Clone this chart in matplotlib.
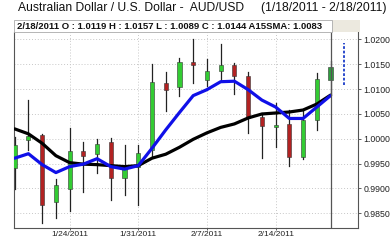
import matplotlib
matplotlib.use("Agg")
import matplotlib.pyplot as plt
from matplotlib.patches import Rectangle

dates = ["1/18", "1/19", "1/20", "1/21", "1/24", "1/25", "1/26", "1/27", "1/28",
         "1/31", "2/1", "2/2", "2/3", "2/4", "2/7", "2/8", "2/9", "2/10", "2/11",
         "2/14", "2/15", "2/16", "2/17", "2/18"]
opens = [0.9941, 0.9997, 1.0008, 0.9872, 0.9899, 0.9976, 0.9969, 0.9993, 0.9922,
         0.9944, 0.9977, 1.0113, 1.0104, 1.0155, 1.0118, 1.0136, 1.0148, 1.0126, 1.0044,
         1.0023, 1.0030, 0.9963, 1.0037, 1.0119]
highs = [1.0003, 1.0078, 1.0009, 0.9919, 1.0022, 0.9993, 0.9999, 1.0001, 0.9987,
         0.9988, 1.0150, 1.0134, 1.0163, 1.0201, 1.0161, 1.0190, 1.0153, 1.0135, 1.0052,
         1.0073, 1.0059, 1.0057, 1.0133, 1.0157]
lows = [0.9898, 0.9978, 0.9831, 0.9841, 0.9855, 0.9892, 0.9931, 0.9877, 0.9886,
        0.9867, 0.9966, 1.0056, 1.0086, 1.0113, 1.0106, 1.0119, 1.0091, 1.0012, 0.9962,
        0.9983, 0.9946, 0.9959, 1.0018, 1.0089]
closes = [0.9988, 1.0006, 0.9866, 0.9907, 0.9976, 0.9966, 0.9990, 0.9921, 0.9946,
          0.9971, 1.0115, 1.0098, 1.0155, 1.0149, 1.0136, 1.0148, 1.0126, 1.0042, 1.0025,
          1.0027, 0.9964, 1.0038, 1.0121, 1.0144]
fast_ma = [0.9961, 0.9970, 0.9948, 0.9932, 0.9944, 0.9949, 0.9960, 0.9944, 0.9939,
           0.9946, 0.9981, 1.0018, 1.0053, 1.0087, 1.0099, 1.0115, 1.0116, 1.0099, 1.0078,
           1.0064, 1.0041, 1.0041, 1.0064, 1.0087]
slow_ma = [1.0020, 1.0010, 0.9991, 0.9966, 0.9952, 0.9949, 0.9948, 0.9946, 0.9944,
           0.9946, 0.9961, 0.9969, 0.9983, 0.9999, 1.0012, 1.0023, 1.0030, 1.0042, 1.0050,
           1.0052, 1.0054, 1.0058, 1.0070, 1.0088]
forecast_range = [1.0109, 1.0193]
xtick_labels = ["1/24/2011", "1/31/2011", "2/7/2011", "2/14/2011"]
xtick_dates = ["1/24", "1/31", "2/7", "2/14"]
ytick_values = [0.9850, 0.9900, 0.9950, 1.0000, 1.0050, 1.0100, 1.0150, 1.0200]

title = "Australian Dollar / U.S. Dollar -  AUD/USD     (1/18/2011 - 2/18/2011)"
header = "2/18/2011 O : 1.0119 H : 1.0157 L : 1.0089 C : 1.0144 A15SMA: 1.0083"

plt.rcParams['font.family'] = ['Liberation Sans', 'DejaVu Sans']

fig = plt.figure(figsize=(3.9, 2.41), dpi=100)
fig.patch.set_facecolor('white')
ax = fig.add_axes([14/390, 1 - 228/241, 344/390, 196/241])

x = list(range(len(dates)))
ax.set_xlim(-0.05, 25.0)
ax.set_ylim(0.98204, 1.02151)

for v in ytick_values:
    ax.axhline(v, color='#c8c8c8', lw=0.7, ls=(0, (1, 2)), zorder=0)
for d in xtick_dates:
    ax.axvline(dates.index(d), color='#c8c8c8', lw=0.7, ls=(0, (1, 2)), zorder=0)

bw = 0.3
for i in x:
    o, h, l, c = opens[i], highs[i], lows[i], closes[i]
    ax.plot([i, i], [l, h], color='#222222', lw=0.9, zorder=2)
    up = c >= o
    col = '#33cc33' if up else '#b22222'
    if i == len(dates) - 1:
        col = '#2e9e3e'
    lo = min(o, c)
    hgt = max(abs(c - o), 0.00012)
    ax.add_patch(Rectangle((i - bw / 2, lo), bw, hgt, facecolor=col,
                           edgecolor='#333333', lw=0.4, zorder=3))

ax.plot(x, slow_ma, color='black', lw=2.3, zorder=4, solid_capstyle='round')
ax.plot(x, fast_ma, color='#1010e8', lw=2.3, zorder=5, solid_capstyle='round')

ax.axvline(len(dates) - 1, color='#555555', lw=0.9, zorder=6)
ax.plot([len(dates), len(dates)], forecast_range, color='#1a3cc8', lw=1.3,
        ls=(0, (1.5, 1)), zorder=6)

ax.yaxis.tick_right()
ax.set_yticks(ytick_values)
ax.set_yticklabels(["%.4f" % v for v in ytick_values], fontsize=6.3, color='#222222')
ax.set_xticks([dates.index(d) for d in xtick_dates])
ax.set_xticklabels(xtick_labels, fontsize=6.0, color='#222222')
ax.tick_params(axis='y', length=2, width=0.6, colors='#444444', pad=2,
               labelcolor='#222222')
ax.tick_params(axis='x', length=1.5, width=0.6, colors='#444444', pad=1,
               labelcolor='#222222')
for s in ['left', 'bottom', 'right']:
    ax.spines[s].set_color('#555555')
    ax.spines[s].set_linewidth(0.8)
ax.spines['top'].set_visible(False)

fig.text(18/390, 1 - 8/241, title, fontsize=8.75, color='#111111',
         ha='left', va='center')
fig.patches.append(Rectangle((332/390, 1 - 32/241), 28/390, 12/241,
                             transform=fig.transFigure, facecolor='#ece9df',
                             edgecolor='none', zorder=1))
fig.patches.append(Rectangle((14/390, 1 - 32/241), 318/390, 12/241,
                             transform=fig.transFigure, facecolor='white',
                             edgecolor='#aaaaaa', lw=0.6, zorder=1))
fig.text(17/390, 1 - 26/241, header, fontsize=6.8, fontweight='bold',
         color='#111111', ha='left', va='center')

fig.savefig('out.png', dpi=100)
